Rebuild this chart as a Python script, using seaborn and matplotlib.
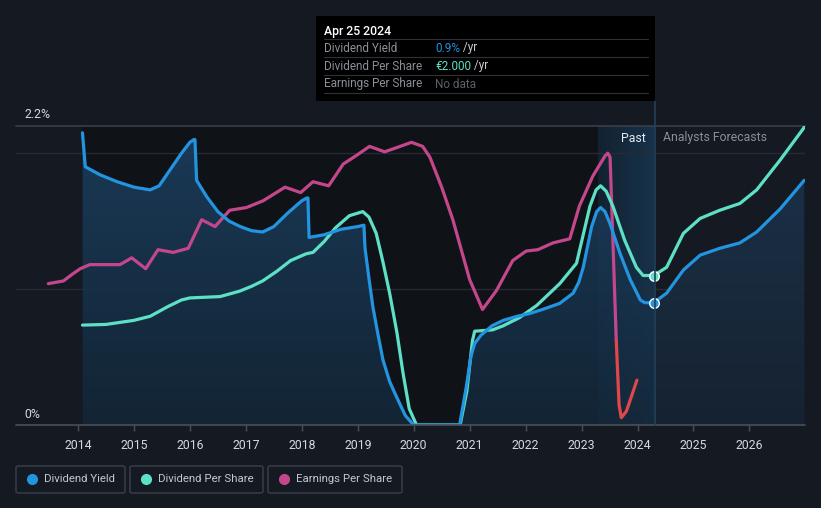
import numpy as np
import pandas as pd
import matplotlib
matplotlib.use("Agg")
import matplotlib.pyplot as plt
from matplotlib.patches import Rectangle, FancyBboxPatch, Polygon
from matplotlib.lines import Line2D
import seaborn as sns

# ---------------- data ----------------
yield_x = [2014.08, 2014.13, 2014.4, 2014.7, 2015.0, 2015.29, 2015.45, 2015.65, 2015.85, 2016.0,
           2016.07, 2016.09, 2016.12, 2016.3, 2016.5, 2016.7, 2016.9, 2017.1, 2017.3, 2017.5,
           2017.75, 2018.0, 2018.09, 2018.11, 2018.13, 2018.4, 2018.7, 2019.0, 2019.11, 2019.13,
           2019.2, 2019.27, 2019.36, 2019.45, 2019.57, 2019.69, 2019.85, 2020.0, 2020.82, 2020.94,
           2021.02, 2021.09, 2021.2, 2021.4, 2021.6, 2021.85, 2022.07, 2022.3, 2022.61, 2022.85,
           2022.95, 2023.03, 2023.18, 2023.27, 2023.34, 2023.42, 2023.51, 2023.69, 2023.87, 2024.05,
           2024.13, 2024.29]
yield_v = [2.15, 1.90, 1.84, 1.79, 1.75, 1.73, 1.76, 1.88, 2.00, 2.08,
           2.10, 2.10, 1.80, 1.68, 1.57, 1.50, 1.46, 1.43, 1.42, 1.46,
           1.56, 1.65, 1.67, 1.67, 1.38, 1.40, 1.44, 1.46, 1.47, 1.30,
           1.08, 0.87, 0.67, 0.48, 0.32, 0.21, 0.07, 0.0, 0.0, 0.28,
           0.50, 0.60, 0.66, 0.73, 0.77, 0.80, 0.82, 0.85, 0.895, 0.97,
           1.05, 1.16, 1.46, 1.57, 1.60, 1.57, 1.48, 1.26, 1.07, 0.92,
           0.90, 0.90]
yield_fc_x = [2024.29, 2024.52, 2024.82, 2025.12, 2025.47, 2025.83, 2026.13, 2026.55, 2026.98]
yield_fc_v = [0.90, 0.97, 1.14, 1.25, 1.30, 1.34, 1.42, 1.59, 1.80]

dps_x = [2014.08, 2014.5, 2015.0, 2015.29, 2015.6, 2015.85, 2016.0, 2016.54, 2016.89, 2017.1,
         2017.3, 2017.55, 2017.8, 2018.08, 2018.2, 2018.4, 2018.6, 2018.85, 2019.09, 2019.2,
         2019.33, 2019.45, 2019.57, 2019.7, 2019.81, 2019.92, 2020.05, 2020.83, 2020.95, 2021.05,
         2021.09, 2021.41, 2021.6, 2021.89, 2022.2, 2022.61, 2022.91, 2023.03, 2023.15, 2023.26,
         2023.34, 2023.44, 2023.56, 2023.77, 2023.98, 2024.1, 2024.29]
dps_v = [0.735, 0.74, 0.77, 0.80, 0.87, 0.92, 0.935, 0.945, 0.985, 1.02,
         1.06, 1.13, 1.21, 1.26, 1.27, 1.35, 1.45, 1.54, 1.57, 1.53,
         1.41, 1.20, 0.97, 0.68, 0.38, 0.12, 0.0, 0.0, 0.25, 0.62,
         0.69, 0.70, 0.73, 0.79, 0.88, 1.04, 1.19, 1.40, 1.61, 1.73,
         1.76, 1.72, 1.61, 1.36, 1.16, 1.10, 1.10]
dps_fc_x = [2024.29, 2024.52, 2024.82, 2025.12, 2025.47, 2025.83, 2026.13, 2026.55, 2026.98]
dps_fc_v = [1.10, 1.16, 1.41, 1.52, 1.58, 1.63, 1.73, 1.95, 2.19]

eps_x = [2013.47, 2013.74, 2013.9, 2014.04, 2014.21, 2014.75, 2014.96, 2015.21, 2015.43, 2015.70,
         2015.97, 2016.21, 2016.45, 2016.71, 2017.01, 2017.31, 2017.70, 2017.98, 2018.2, 2018.48,
         2018.74, 2019.0, 2019.21, 2019.48, 2019.69, 2019.96, 2020.16, 2020.29, 2020.5, 2020.70,
         2021.0, 2021.23, 2021.48, 2021.77, 2022.01, 2022.22, 2022.49, 2022.79, 2022.96, 2023.2,
         2023.42, 2023.47, 2023.51, 2023.56, 2023.62, 2023.67, 2023.71, 2023.8, 2023.9, 2023.99]
eps_v = [1.04, 1.06, 1.11, 1.15, 1.18, 1.18, 1.23, 1.15, 1.29, 1.27,
         1.30, 1.51, 1.46, 1.58, 1.60, 1.65, 1.75, 1.71, 1.79, 1.76,
         1.92, 1.99, 2.05, 2.01, 2.04, 2.08, 2.05, 1.97, 1.75, 1.51,
         1.07, 0.85, 0.99, 1.21, 1.28, 1.29, 1.34, 1.37, 1.61, 1.83,
         1.98, 2.00, 1.97, 1.36, 0.625, 0.15, 0.054, 0.10, 0.22, 0.33]
eps_neg_from = 2023.62

year_ticks = list(range(2014, 2027))
y_labels = ["0%", "2.2%"]
legend_labels = ["Dividend Yield", "Dividend Per Share", "Earnings Per Share"]
tooltip_date = "Apr 25 2024"
tooltip_rows = [("Dividend Yield", "0.9%", " /yr"), ("Dividend Per Share", "€2.000", " /yr"),
                ("Earnings Per Share", "No data", "")]

# ---------------- style ----------------
BG = "#151a22"
DARK = "#0f1318"
BLUE = "#2394df"
TEAL = "#5ee0c7"
PINK = "#c5478b"
RED = "#e0474c"
GRID = "#262b33"
TXT = "#d6d9de"
GRAY = "#8a8f98"

sns.set_theme(style="dark")
plt.rcParams["font.family"] = ["Roboto", "DejaVu Sans"]

W, H = 821, 508
fig = plt.figure(figsize=(W / 100, H / 100), dpi=100, facecolor=BG)

def fx(x):
    return x / W

def fy(y):
    return 1 - y / H

ax_l, ax_r, ax_t, ax_b = 16, 805, 126, 425
ax = fig.add_axes([fx(ax_l), fy(ax_b), (ax_r - ax_l) / W, (ax_b - ax_t) / H])
ax.set_facecolor(BG)
x0 = 2014 + (ax_l - 78) / 55.95
x1 = 2014 + (ax_r - 78) / 55.95
ax.set_xlim(x0, x1)
ax.set_ylim(0, 2.2)
for s in ax.spines.values():
    s.set_visible(False)

past_start = yield_x[0]
now = yield_x[-1]

# dark past region
ax.axvspan(past_start, now, color=DARK, zorder=0, lw=0)
# lighter "Past" band
band = np.linspace(0, 1, 64).reshape(1, -1)
ax.imshow(band, extent=[2023.29, now, 0, 2.2], aspect="auto",
          cmap=matplotlib.colors.LinearSegmentedColormap.from_list("b", ["#132231", "#17324a"]),
          zorder=0.5, interpolation="bicubic")

# gridlines
for g in [1.0, 2.0]:
    ax.axhline(g, color=GRID, lw=1, zorder=1)
ax.axhline(2.2, color="#3a3f47", lw=1.2, zorder=1, clip_on=False)
ax.axhline(0, color="#4a4f58", lw=1.2, zorder=6, clip_on=False)

# gradient fill under dividend yield
def grad_fill(xs, vs, top, bottom, alpha, z):
    verts = [(xs[0], 0)] + list(zip(xs, vs)) + [(xs[-1], 0)]
    poly = Polygon(verts, closed=True, facecolor="none", edgecolor="none")
    ax.add_patch(poly)
    grad = np.linspace(1, 0, 128).reshape(-1, 1)
    cmap = matplotlib.colors.LinearSegmentedColormap.from_list("g", [bottom, top])
    im = ax.imshow(grad, extent=[xs[0], xs[-1], 0, 2.2], aspect="auto", cmap=cmap,
                   alpha=alpha, zorder=z, origin="upper")
    im.set_clip_path(poly)

grad_fill(yield_x, yield_v, "#1c4163", "#14283a", 0.85, 2)
grad_fill(yield_fc_x, yield_fc_v, "#1c3550", "#172433", 0.9, 2)

# lines (seaborn)
df_y = pd.DataFrame({"x": yield_x + yield_fc_x[1:], "v": yield_v + yield_fc_v[1:]})
df_d = pd.DataFrame({"x": dps_x + dps_fc_x[1:], "v": dps_v + dps_fc_v[1:]})
eps_x_a = np.array(eps_x)
eps_v_a = np.array(eps_v)
mask_pos = eps_x_a <= eps_neg_from
mask_neg = eps_x_a >= eps_neg_from
df_ep = pd.DataFrame({"x": eps_x_a[mask_pos], "v": eps_v_a[mask_pos]})
df_en = pd.DataFrame({"x": eps_x_a[mask_neg], "v": eps_v_a[mask_neg]})

kw = dict(estimator=None, sort=False, lw=2.3, legend=False)
sns.lineplot(data=df_ep, x="x", y="v", color=PINK, ax=ax, zorder=3, **kw)
sns.lineplot(data=df_en, x="x", y="v", color=RED, ax=ax, zorder=3, **kw)
sns.lineplot(data=df_d, x="x", y="v", color=TEAL, ax=ax, zorder=4, **kw)
sns.lineplot(data=df_y, x="x", y="v", color=BLUE, ax=ax, zorder=5, **kw)
for ln in ax.lines:
    ln.set_solid_capstyle("round")
    ln.set_solid_joinstyle("round")
    ln.set_antialiased(True)

# markers at "now"
ax.scatter([now], [dps_v[-1]], s=48, color=TEAL, edgecolor="white", linewidth=1.0, zorder=7)
ax.scatter([now], [yield_v[-1]], s=48, color=BLUE, edgecolor="white", linewidth=1.0, zorder=7)

# ticks
ax.set_xticks(year_ticks)
ax.set_xticklabels([str(t) for t in year_ticks], color=TXT, fontsize=8.8)
ax.tick_params(axis="x", length=4, color="#4a4f58", pad=6, width=1, bottom=True)
ax.set_yticks([])
ax.set_xlabel("")
ax.set_ylabel("")
ax.grid(False)

# y labels
fig.text(fx(24), fy(114), y_labels[1], color=TXT, fontsize=8.8, va="center", ha="left")
fig.text(fx(24), fy(414), y_labels[0], color=TXT, fontsize=8.8, va="center", ha="left")

# Past / forecasts
fig.text(fx(646), fy(138), "Past", color="#e8eaed", fontsize=8.8, ha="right", va="center")
fig.text(fx(663), fy(138), "Analysts Forecasts", color=GRAY, fontsize=8.8, ha="left", va="center")

# crosshair line
fig.add_artist(Line2D([fx(655), fx(655)], [fy(101), fy(425)], color="#22405a", lw=1.2, zorder=1))

# tooltip
fig.add_artist(Rectangle((fx(316), fy(101)), (655 - 316) / W, (101 - 16) / H,
                         facecolor="#000000", edgecolor="none", zorder=10))
fig.text(fx(324), fy(31), tooltip_date, color="white", fontsize=8.8, fontweight="medium",
         va="center", ha="left", zorder=11)
row_y = [48, 66, 84]
for i, (lab, val, unit) in enumerate(tooltip_rows):
    yy = row_y[i]
    fig.add_artist(Line2D([fx(324), fx(648)], [fy(yy - 9), fy(yy - 9)], color="#2e3238", lw=0.8, zorder=11))
    fig.text(fx(324), fy(yy), lab, color=GRAY, fontsize=8.5, va="center", ha="left", zorder=11)
    vcol = [BLUE, TEAL, "#5b6068"][i]
    t = fig.text(fx(435), fy(yy), val, color=vcol, fontsize=8.5, va="center", ha="left", zorder=11)
    if unit:
        fig.canvas.draw()
        bb = t.get_window_extent()
        fig.text(bb.x1 / W, fy(yy), unit, color="#c8ccd2", fontsize=8.5, va="center", ha="left", zorder=11)
fig.add_artist(Line2D([fx(324), fx(648)], [fy(93), fy(93)], color="#2e3238", lw=0.8, zorder=11))

# legend boxes
boxes = [(16, 125), (130, 263), (268, 402)]
cols = [BLUE, TEAL, PINK]
for (bx0, bx1), lab, c in zip(boxes, legend_labels, cols):
    fig.add_artist(FancyBboxPatch((fx(bx0), fy(493)), (bx1 - bx0) / W, (493 - 466) / H,
                                  boxstyle="round,pad=0,rounding_size=0.003",
                                  facecolor="none", edgecolor="#3b4049", lw=1))
    fig.add_artist(Line2D([fx(bx0 + 16)], [fy(479)], marker="o", markersize=7, color=c, lw=0))
    fig.text(fx(bx0 + 28), fy(479), lab, color="#c4c8ce", fontsize=8.2, va="center", ha="left")

fig.savefig("out.png", dpi=100, facecolor=BG)
